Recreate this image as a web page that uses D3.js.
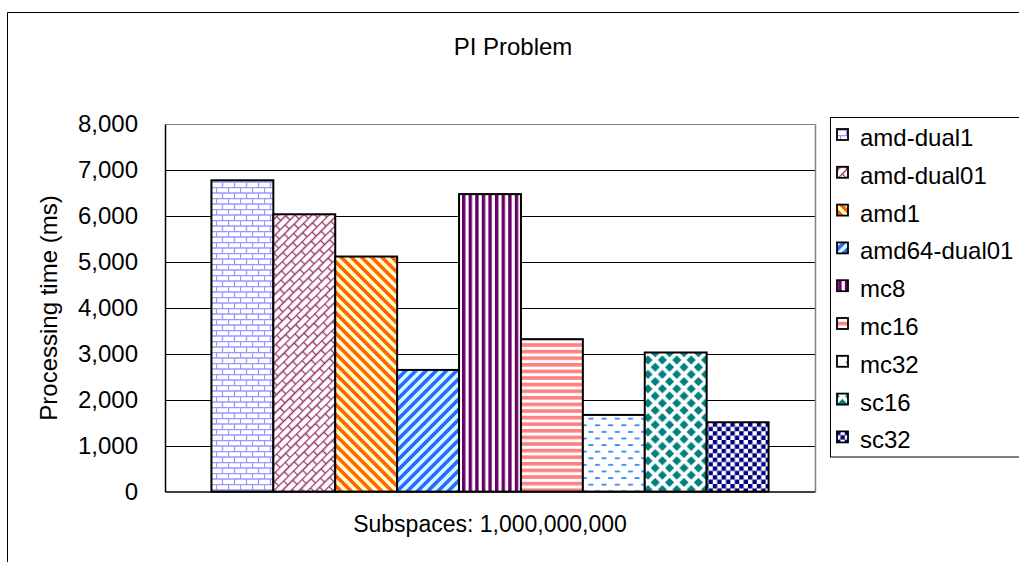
<!DOCTYPE html>
<html>
<head>
<meta charset="utf-8">
<script src="https://cdn.jsdelivr.net/npm/d3@7/dist/d3.min.js"></script>
<style>
  html, body { margin: 0; padding: 0; background: #fff; }
  svg { display: block; font-family: "Liberation Sans", Arial, sans-serif; }
</style>
</head>
<body>
<svg id="chart" width="1019" height="562"></svg>
<script>
// Chart data
const categories = ["Subspaces: 1,000,000,000"];
const seriesNames = ["amd-dual1", "amd-dual01", "amd1", "amd64-dual01", "mc8", "mc16", "mc32", "sc16", "sc32"];
const seriesValues = [6780, 6040, 5120, 2650, 6480, 3320, 1670, 3030, 1510];
const yTickValues = [0, 1000, 2000, 3000, 4000, 5000, 6000, 7000, 8000];
const chartTitle = "PI Problem";
const yAxisTitle = "Processing time (ms)";

const svg = d3.select("#chart");
const W = 1019, H = 562;

// Plot area
const plot = { left: 165, right: 815, top: 124.3, bottom: 491.6 };

const x0 = d3.scaleBand().domain(categories).range([plot.left, plot.right]).padding(0);
const x1 = d3.scaleBand().domain(seriesNames).range([0, x0.bandwidth()])
  .paddingInner(0).paddingOuter(0.75);
const y = d3.scaleLinear().domain([0, 8000]).range([plot.bottom, plot.top]);

// Fill patterns for each series
const defs = svg.append("defs");

function pattern(id, w, h, bg, transform) {
  const p = defs.append("pattern").attr("id", id)
    .attr("patternUnits", "userSpaceOnUse")
    .attr("width", w).attr("height", h);
  if (transform) p.attr("patternTransform", transform);
  p.append("rect").attr("width", w).attr("height", h).attr("fill", bg);
  return p;
}

// brick
(function () {
  const p = pattern("p0", 12, 11, "#ffffff");
  const c = "#9999ff";
  p.append("path").attr("d", "M0,0.5H12M0,6H12M0.5,0V6M6.5,6V11")
    .attr("stroke", c).attr("stroke-width", 1.3).attr("fill", "none");
})();
// diagonal brick
(function () {
  const p = pattern("p1", 14, 12, "#ffffff", "rotate(-45)");
  const c = "#993366";
  p.append("path").attr("d", "M0,0.5H14M0,6.5H14M0.5,0V6.5M7.5,6.5V12")
    .attr("stroke", c).attr("stroke-width", 1.3).attr("fill", "none");
})();
// wide downward diagonal
(function () {
  const p = pattern("p2", 7.2, 7.2, "#ffffcc", "rotate(-45)");
  p.append("rect").attr("x", 0).attr("y", 0).attr("width", 3.6).attr("height", 7.2).attr("fill", "#ff6600");
})();
// wide upward diagonal
(function () {
  const p = pattern("p3", 7.2, 7.2, "#ccffff", "rotate(45)");
  p.append("rect").attr("x", 0).attr("y", 0).attr("width", 3.6).attr("height", 7.2).attr("fill", "#3366ff");
})();
// vertical stripes
(function () {
  const p = pattern("p4", 6.6, 6.6, "#ffffff");
  p.append("rect").attr("x", 0).attr("y", 0).attr("width", 3.4).attr("height", 6.6).attr("fill", "#660066");
})();
// horizontal stripes
(function () {
  const p = pattern("p5", 6.6, 6.6, "#ffffff");
  p.append("rect").attr("x", 0).attr("y", 0).attr("width", 6.6).attr("height", 3.6).attr("fill", "#ff8080");
})();
// dashed horizontal
(function () {
  const p = pattern("p6", 13.2, 13.2, "#ffffff");
  p.append("rect").attr("x", 1).attr("y", 2).attr("width", 5).attr("height", 1.8).attr("fill", "#3388ff");
  p.append("rect").attr("x", 7.6).attr("y", 8.6).attr("width", 5).attr("height", 1.8).attr("fill", "#3388ff");
})();
// diamonds
(function () {
  const P = 14.4, h = 4.6;
  const p = pattern("p7", P, P, "#ffffff");
  const dia = (cx, cy) => `M${cx},${cy - h}L${cx + h},${cy}L${cx},${cy + h}L${cx - h},${cy}Z`;
  p.append("path").attr("fill", "#008080")
    .attr("d", dia(0, 0) + dia(P, 0) + dia(0, P) + dia(P, P) + dia(P / 2, P / 2));
})();
// checkerboard
(function () {
  const s = 4.4;
  const p = pattern("p8", 2 * s, 2 * s, "#ffffff");
  p.append("rect").attr("x", 0).attr("y", 0).attr("width", s).attr("height", s).attr("fill", "#000080");
  p.append("rect").attr("x", s).attr("y", s).attr("width", s).attr("height", s).attr("fill", "#000080");
})();

const fillFor = i => `url(#p${i})`;

// Outer chart frame
svg.append("path")
  .attr("d", `M7.5,${H + 5}V12.5H${W + 5}`)
  .attr("fill", "none").attr("stroke", "#000").attr("stroke-width", 1);

// Gridlines
svg.append("g").selectAll("line")
  .data(yTickValues.filter(v => v > 0))
  .join("line")
  .attr("x1", plot.left).attr("x2", plot.right)
  .attr("y1", d => Math.round(y(d)) + 0.5).attr("y2", d => Math.round(y(d)) + 0.5)
  .attr("stroke", d => d === 8000 ? "#808080" : "#000")
  .attr("stroke-width", 1);

// Plot area right border
svg.append("line")
  .attr("x1", plot.right + 0.5).attr("x2", plot.right + 0.5)
  .attr("y1", y(8000)).attr("y2", plot.bottom)
  .attr("stroke", "#808080").attr("stroke-width", 1.5);

// Bars
const barG = svg.append("g");
categories.forEach(cat => {
  barG.selectAll("rect.bar")
    .data(seriesValues.map((v, i) => ({ name: seriesNames[i], value: v, i })))
    .join("rect")
    .attr("class", "bar")
    .attr("x", d => x0(cat) + x1(d.name))
    .attr("width", x1.bandwidth())
    .attr("y", d => y(d.value))
    .attr("height", d => y(0) - y(d.value))
    .attr("fill", d => fillFor(d.i))
    .attr("stroke", "#000").attr("stroke-width", 2);
});

// Y axis
const yAxis = d3.axisLeft(y).tickValues(yTickValues).tickSize(0).tickPadding(27)
  .tickFormat(d3.format(","));
const yg = svg.append("g").attr("transform", `translate(${plot.left},0)`).call(yAxis);
yg.select(".domain").attr("stroke", "#000").attr("stroke-width", 1.5);
yg.selectAll("text").attr("font-size", 24).attr("fill", "#000")
  .attr("font-family", "Liberation Sans, Arial, sans-serif");

// X axis (category)
const xAxis = d3.axisBottom(x0).tickSize(0).tickPadding(24);
const xg = svg.append("g").attr("transform", `translate(0,${plot.bottom})`).call(xAxis);
xg.select(".domain").attr("stroke", "#000").attr("stroke-width", 1.5);
xg.selectAll("text").attr("font-size", 23).attr("fill", "#000")
  .attr("font-family", "Liberation Sans, Arial, sans-serif");

// Titles
svg.append("text").attr("x", 513).attr("y", 55).attr("text-anchor", "middle")
  .attr("font-size", 24).text(chartTitle);
svg.append("text")
  .attr("transform", `translate(57,308) rotate(-90)`)
  .attr("text-anchor", "middle").attr("font-size", 24).text(yAxisTitle);

// Legend
const legend = svg.append("g");
legend.append("rect").attr("x", 830.5).attr("y", 117.5).attr("width", 220).attr("height", 339.5)
  .attr("fill", "#fff").attr("stroke", "#000").attr("stroke-width", 1);
const items = legend.selectAll("g.item").data(seriesNames).join("g")
  .attr("class", "item")
  .attr("transform", (d, i) => `translate(0,${146 + i * 37.8})`);
items.append("rect").attr("x", 837).attr("y", -17).attr("width", 11).attr("height", 11)
  .attr("fill", (d, i) => fillFor(i)).attr("stroke", "#000").attr("stroke-width", 1.8);
items.append("text").attr("x", 860).attr("y", 0).attr("font-size", 24).text(d => d);
</script>
</body>
</html>
